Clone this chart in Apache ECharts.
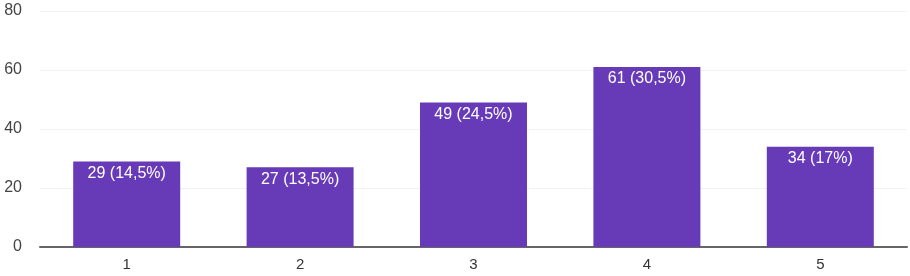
<!DOCTYPE html>
<html><head><meta charset="utf-8">
<script src="https://cdn.jsdelivr.net/npm/echarts@6/dist/echarts.min.js"></script>
<style>html,body{margin:0;padding:0;background:#fff}#c{width:910px;height:276px}</style>
</head><body><div id="c"></div>
<script>
var categories = ['1','2','3','4','5'];
var values = [29, 27, 49, 61, 34];
var labels = ['29 (14,5%)','27 (13,5%)','49 (24,5%)','61 (30,5%)','34 (17%)'];
var yTicks = [0,20,40,60,80];

var chart = echarts.init(document.getElementById('c'), null, {renderer:'canvas'});
chart.setOption({
  animation:false,
  grid:{left:40,right:3,top:11,bottom:29,containLabel:false},
  xAxis:{type:'category',data:categories,
    axisLine:{lineStyle:{color:'#666',width:2}},
    axisTick:{show:false},
    axisLabel:{color:'#333',fontSize:15,fontFamily:'Liberation Sans, Arial',margin:10}},
  yAxis:{type:'value',min:yTicks[0],max:yTicks[yTicks.length-1],interval:20,
    axisLine:{show:false},axisTick:{show:false},
    splitLine:{lineStyle:{color:'#f2f2f2',width:1}},
    axisLabel:{color:'#444',fontSize:16,fontFamily:'Liberation Sans, Arial',margin:18}},
  series:[{type:'bar',data:values,barWidth:'61.7%',
    itemStyle:{color:'#673ab7'},
    label:{show:true,position:'insideTop',distance:4,color:'#fff',fontSize:16,
      fontFamily:'Liberation Sans, Arial',
      formatter:function(p){return labels[p.dataIndex];}}}]
});
</script></body></html>
